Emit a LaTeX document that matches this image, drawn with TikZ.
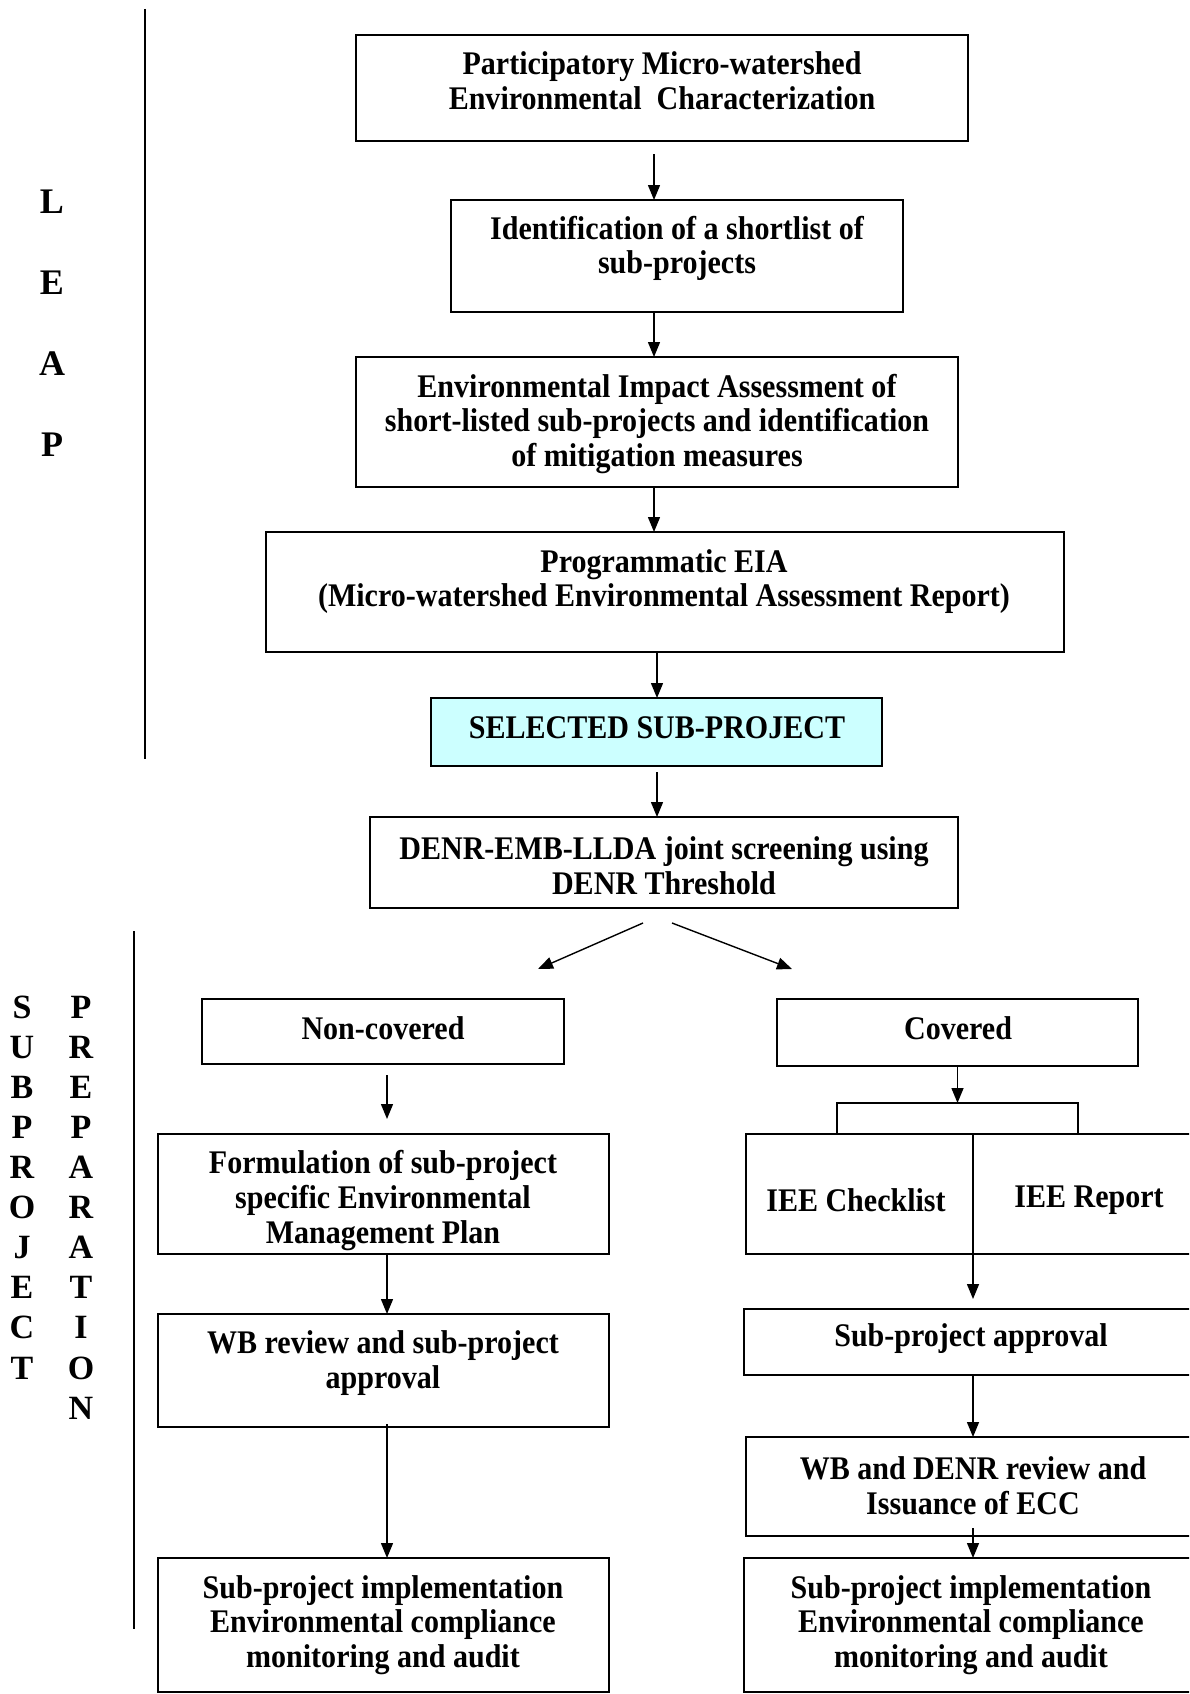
\documentclass[tikz,border=0pt]{standalone}
\usepackage{fontspec}
\setmainfont{Liberation Serif}[FakeStretch=0.91]
\newfontfamily\sidefont{Liberation Serif}
\usetikzlibrary{arrows.meta,calc}
\definecolor{selcyan}{HTML}{CCFFFF}
\begin{document}
\begin{tikzpicture}[x=1pt,y=-1pt,
  box/.style={draw,line width=1.4pt,inner sep=0pt,outer sep=0pt},
  txt/.style={font=\fontsize{33}{34.6}\selectfont\bfseries,align=center,inner sep=0pt},
  side/.style={font=\sidefont\fontsize{34}{36}\selectfont\bfseries,inner sep=0pt},
  sidebig/.style={font=\sidefont\fontsize{36}{38}\selectfont\bfseries,inner sep=0pt},
  arr/.style={line width=1.4pt,-{Triangle[length=15pt,width=12pt]}},
  ln/.style={line width=1.4pt}]
\clip (0,0) rectangle (1189,1694);
\fill[white] (0,0) rectangle (1189,1694);
% section rules
\coordinate (leapT) at (145,9);
\coordinate (leapB) at (145,759);
\draw[ln] (leapT) -- (leapB);
\coordinate (subT) at (134,931);
\coordinate (subB) at (134,1629);
\draw[ln] (subT) -- (subB);
% side letters
\foreach \ch [count=\i] in {L,E,A,P}
  \node[sidebig] (leap\i) at (52,{202+81*(\i-1)}) {\ch};
\foreach \ch [count=\i] in {S,U,B,P,R,O,J,E,C,T}
  \node[side] (sp\i) at (22,{1007+40.1*(\i-1)}) {\ch};
\foreach \ch [count=\i] in {P,R,E,P,A,R,A,T,I,O,N}
  \node[side] (pr\i) at (81,{1007+40.1*(\i-1)}) {\ch};
% boxes
\node[box,minimum width=612pt,minimum height=106pt] (b1) at (662,88) {};
\node[txt] at (662,81) {Participatory Micro-watershed\\Environmental\ \ Characterization};
\node[box,minimum width=452pt,minimum height=112pt] (b2) at (677,256) {};
\node[txt] at (677,248.5) {Identification of a shortlist of\\sub-projects};
\node[box,minimum width=602pt,minimum height=130pt] (b3) at (657,422) {};
\node[txt] at (657,424) {Environmental Impact Assessment of\\short-listed sub-projects and identification\\of mitigation measures};
\node[box,minimum width=798pt,minimum height=120pt] (b4) at (665,592) {};
\node[txt] at (664,581.5) {Programmatic EIA\\(Micro-watershed Environmental Assessment Report)};
\node[box,fill=selcyan,minimum width=451pt,minimum height=68pt] (b5) at (656.5,732) {};
\node[txt] at (657,728) {SELECTED SUB-PROJECT};
\node[box,minimum width=588pt,minimum height=91pt] (b6) at (664,862.5) {};
\node[txt] at (664,866) {DENR-EMB-LLDA joint screening using\\DENR Threshold};
% left branch
\node[box,minimum width=362pt,minimum height=65pt] (nc) at (383,1031.5) {};
\node[txt] at (383,1028) {Non-covered};
\node[box,minimum width=451pt,minimum height=120pt] (form) at (383.5,1194) {};
\node[txt] at (383,1200.5) {Formulation of sub-project\\specific Environmental\\Management Plan};
\node[box,minimum width=451pt,minimum height=113pt] (wbr) at (383.5,1370.5) {};
\node[txt] at (383,1363) {WB review and sub-project\\approval};
\node[box,minimum width=451pt,minimum height=134pt] (impl) at (383.5,1625) {};
\node[txt] at (383,1625) {Sub-project implementation\\Environmental compliance\\monitoring and audit};
% right branch
\node[box,minimum width=361pt,minimum height=67pt] (cov) at (957.5,1032.5) {};
\node[txt] at (958,1028) {Covered};
\node[box,minimum width=454pt,minimum height=120pt] (iee) at (973,1194) {};
\node[txt] at (856,1200) {IEE Checklist};
\node[txt] at (1089,1200) {IEE Report};
\node[box,minimum width=456pt,minimum height=66pt] (appr) at (972,1342) {};
\node[txt] at (971,1339) {Sub-project approval};
\node[box,minimum width=454pt,minimum height=99pt] (wbd) at (973,1486.5) {};
\node[txt] at (973,1486) {WB and DENR review and\\Issuance of ECC};
\node[box,minimum width=456pt,minimum height=134pt] (implR) at (972,1625) {};
\node[txt] at (971,1625) {Sub-project implementation\\Environmental compliance\\monitoring and audit};
% main arrows
\draw[arr] ([xshift=-8pt,yshift=-13pt]b1.south) -- ([xshift=-8pt]b1.south |- b2.north);
\draw[arr] ([xshift=-23pt]b2.south) -- ([xshift=-23pt]b2.south |- b3.north);
\draw[arr] ([xshift=-3pt]b3.south) -- ([xshift=-3pt]b3.south |- b4.north);
\draw[arr] ([xshift=-8pt]b4.south) -- ([xshift=-8pt]b4.south |- b5.north);
\draw[arr] ([xshift=0.5pt,yshift=-6pt]b5.south) -- ([xshift=0.5pt]b5.south |- b6.north);
% split arrows
\coordinate (ltip) at (538,969);
\coordinate (rtip) at (792,969);
\draw[arr] ([xshift=-21pt,yshift=-15pt]b6.south) -- (ltip);
\draw[arr] ([xshift=8pt,yshift=-15pt]b6.south) -- (rtip);
% left chain
\draw[arr,shorten >=15pt] ([xshift=4pt,yshift=-11pt]nc.south) -- ([xshift=4pt]nc.south |- form.north);
\draw[arr] ([xshift=3.5pt]form.south) -- ([xshift=3.5pt]form.south |- wbr.north);
\draw[arr] ([xshift=3.5pt,yshift=3pt]wbr.south) -- ([xshift=3.5pt]wbr.south |- impl.north);
% right chain
\coordinate (brL) at (837,1103);
\coordinate (brR) at (1078,1103);
\draw[ln] (brL |- iee.north) -- (brL) -- (brR) -- (brR |- iee.north);
\draw[arr] (cov.south) -- (cov.south |- brL);
\draw[arr,shorten >=10pt] (iee.north) -- (iee.north |- appr.north);
\draw[arr] ([xshift=1pt]appr.south) -- ([xshift=1pt]appr.south |- wbd.north);
\draw[arr] ([yshift=8pt]wbd.south) -- (wbd.south |- implR.north);
\end{tikzpicture}
\end{document}
